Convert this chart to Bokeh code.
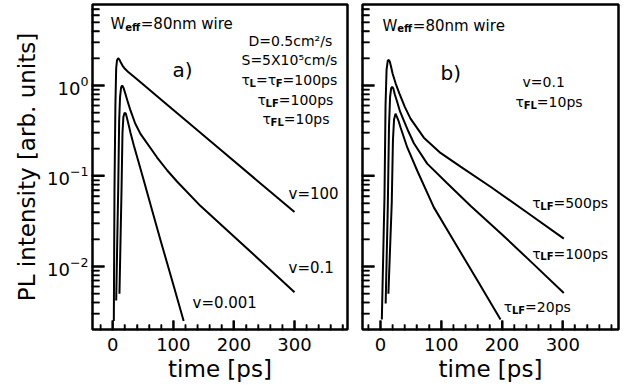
import math
from bokeh.plotting import figure
from bokeh.layouts import row
from bokeh.models import Range1d, FixedTicker, LogTickFormatter, PrintfTickFormatter
from bokeh.core.properties import value
from bokeh.embed import file_html
from bokeh.resources import INLINE

FONT = "DejaVu Sans"

# ---------------- data ----------------
# panel a): W_eff = 80 nm, different v
t_a_v100 = [1.7, 2.8, 4.3, 5.6, 7.0, 8.9, 11.0, 13.5, 16.0, 20.0, 25.0, 40.0, 79.0, 130.0, 178.0, 240.0, 300.0]
I_a_v100 = [0.0025, 0.07, 0.6, 1.55, 1.9, 2.0, 1.93, 1.78, 1.66, 1.53, 1.42, 1.17, 0.705, 0.363, 0.195, 0.087, 0.040]

t_a_v01 = [5.6, 8.9, 10.5, 12.0, 13.7, 15.5, 18.0, 21.0, 25.0, 29.2, 37.0, 45.7, 73.2, 90.0, 106.0, 145.0, 200.0, 250.0, 300.0]
I_a_v01 = [0.0042, 0.07, 0.4, 0.75, 0.95, 1.0, 0.93, 0.8, 0.65, 0.53, 0.38, 0.292, 0.16, 0.115, 0.087, 0.0465, 0.0215, 0.0106, 0.0052]

t_a_v0001 = [11.0, 14.4, 16.0, 17.5, 19.5, 21.5, 24.0, 26.5, 29.2, 35.0, 40.2, 51.2, 65.0, 78.8, 100.0, 117.0]
I_a_v0001 = [0.005, 0.069, 0.3, 0.45, 0.5, 0.49, 0.42, 0.36, 0.30, 0.215, 0.162, 0.089, 0.0415, 0.0195, 0.0063, 0.0025]

# panel b): v = 0.1, tau_FL = 10 ps, different tau_LF
t_b_500 = [2.2, 6.6, 8.3, 10.0, 12.0, 13.7, 15.5, 17.5, 20.0, 25.0, 31.0, 40.0, 49.4, 71.3, 98.7, 131.7, 181.0, 240.0, 301.6]
I_b_500 = [0.0026, 0.06, 0.6, 1.5, 1.88, 1.92, 1.82, 1.6, 1.35, 1.05, 0.82, 0.58, 0.43, 0.265, 0.18, 0.127, 0.076, 0.040, 0.0203]

t_b_100 = [8.5, 12.0, 14.0, 15.8, 17.5, 19.2, 21.0, 23.5, 27.4, 32.0, 38.4, 46.0, 54.9, 76.8, 109.7, 148.0, 200.0, 250.0, 301.6]
I_b_100 = [0.0039, 0.045, 0.35, 0.75, 0.93, 0.97, 0.93, 0.8, 0.66, 0.52, 0.41, 0.31, 0.23, 0.137, 0.083, 0.047, 0.0226, 0.0109, 0.0051]

t_b_20 = [13.0, 18.5, 20.5, 22.3, 24.7, 27.0, 29.5, 32.9, 43.9, 60.3, 87.8, 120.0, 160.0, 197.5]
I_b_20 = [0.005, 0.05, 0.25, 0.42, 0.487, 0.45, 0.41, 0.346, 0.208, 0.115, 0.045, 0.0195, 0.0069, 0.0026]

X_MAJOR = [0, 100, 200, 300]
X_MINOR = [v for v in range(-20, 381, 20) if v not in X_MAJOR]
Y_MAJOR = [1e-2, 1e-1, 1e0]
Y_LO, Y_HI = 0.002013, 7.85
Y_MINOR = [m * 10.0 ** k for k in (-3, -2, -1, 0) for m in range(2, 10) if Y_LO <= m * 10.0 ** k <= Y_HI]
FRAME_H = 325

# ---------------- helpers ----------------
W_REG = {'τ': 0.578, 'L': 0.557, 'F': 0.575, '=': 0.838, '0': 0.636, '1': 0.636, '2': 0.636,
         '5': 0.636, '8': 0.636, 'p': 0.635, 's': 0.521, 'W': 0.989, 'e': 0.615, 'f': 0.352,
         'n': 0.634, 'm': 0.974, ' ': 0.318, 'w': 0.818, 'i': 0.278, 'r': 0.411}
W_BOLD = {'L': 0.637, 'F': 0.683, 'e': 0.678, 'f': 0.435}


def text_width(txt, size, bold):
    table = W_BOLD if bold else W_REG
    return sum(table.get(c, 0.62) for c in txt) * size


def rich(p, x, y, parts):
    off = 0.0
    for txt, size, dy, bold in parts:
        p.text(x=[x], y=[y], text=[txt], x_offset=off, y_offset=dy,
               text_font=value(FONT), text_font_size=f"{size}px",
               text_font_style="bold" if bold else "normal",
               text_baseline="alphabetic", text_align="left", text_color="black")
        off += text_width(txt, size, bold)


def sub_label(p, x, y, sym_sub, rest, size=14):
    rich(p, x, y, [("τ", size, 0, False), (sym_sub, 10, 3, True), (rest, size, 0, False)])


def inward_ticks(p, x0, x1, frame_w):
    # inward tick marks, one short line per entry of the tick lists, starting at the frame edge
    ux = (x1 - x0) / frame_w                      # data units per pixel along x
    px_dec = FRAME_H / math.log10(Y_HI / Y_LO)    # pixels per decade along y
    for vals, L, w in ((Y_MINOR, 7, 1.5), (Y_MAJOR, 12, 2.0)):
        for v in vals:
            p.line([x0, x0 + L * ux], [v, v], line_width=w, line_color="black")
    for vals, L, w in ((X_MINOR, 5, 1.5), (X_MAJOR, 9, 2.0)):
        for v in vals:
            p.line([v, v], [Y_LO, Y_LO * 10 ** (L / px_dec)], line_width=w, line_color="black")


def make_panel(width, x0, x1, bl, br, ylabels):
    p = figure(width=width, height=390, x_range=Range1d(x0, x1), y_range=Range1d(Y_LO, Y_HI),
               y_axis_type="log", output_backend="svg", toolbar_location=None,
               min_border_left=bl, min_border_right=br, min_border_top=4, min_border_bottom=61)
    p.xgrid.grid_line_color = None
    p.ygrid.grid_line_color = None
    p.outline_line_color = "black"
    p.outline_line_width = 2.5
    xa, ya = p.xaxis[0], p.yaxis[0]
    xa.ticker = FixedTicker(ticks=X_MAJOR, minor_ticks=X_MINOR)
    ya.ticker = FixedTicker(ticks=Y_MAJOR, minor_ticks=Y_MINOR)
    ya.formatter = LogTickFormatter() if ylabels else PrintfTickFormatter(format="")
    for ax in (xa, ya):
        ax.axis_line_color = "black"
        ax.major_tick_out = 1
        ax.minor_tick_out = 1
        ax.major_tick_line_color = "black"
        ax.minor_tick_line_color = "black"
        ax.major_tick_line_width = 2
        ax.minor_tick_line_width = 1.5
        ax.major_label_text_font = FONT
        ax.major_label_text_font_size = "18px"
        ax.major_label_text_color = "black"
        ax.axis_label_text_font = FONT
        ax.axis_label_text_font_size = "23px"
        ax.axis_label_text_font_style = "normal"
        ax.axis_label_text_color = "black"
    xa.major_tick_in = 9
    xa.minor_tick_in = 5
    ya.major_tick_in = 12
    ya.minor_tick_in = 7
    xa.major_label_standoff = 7
    xa.axis_label = "time [ps]"
    xa.axis_label_standoff = 2
    if ylabels:
        ya.axis_label = "PL intensity [arb. units]"
        ya.major_label_standoff = 3
        ya.axis_label_standoff = 4
    else:
        ya.major_label_standoff = 0
    inward_ticks(p, x0, x1, width - bl - br)
    return p


# ---------------- panel a ----------------
pa = make_panel(355, -33.5, 387.5, 92, 8, True)
for t, I in ((t_a_v100, I_a_v100), (t_a_v01, I_a_v01), (t_a_v0001, I_a_v0001)):
    pa.line(t, I, line_width=2, line_color="black")

rich(pa, -3.8, 4.72, [("W", 15, 0, False), ("eff", 10, 3, True), ("=80nm  wire", 15, 0, False)])
rich(pa, 98.6, 1.465, [("a)", 20, 0, False)])
rich(pa, 224.0, 3.14, [("D=0.5cm²/s", 14, 0, False)])
rich(pa, 212.5, 1.89, [("S=5X10⁵cm/s", 14, 0, False)])
rich(pa, 212.5, 1.136, [("τ", 14, 0, False), ("L", 10, 3, True), ("=τ", 14, 0, False),
                        ("F", 10, 3, True), ("=100ps", 14, 0, False)])
sub_label(pa, 238.9, 0.683, "LF", "=100ps")
sub_label(pa, 247.2, 0.421, "FL", "=10ps")
rich(pa, 290.1, 0.0640, [("v=100", 15, 0, False)])
rich(pa, 290.1, 0.00967, [("v=0.1", 15, 0, False)])
rich(pa, 131.6, 0.00395, [("v=0.001", 15, 0, False)])

# ---------------- panel b ----------------
pb = make_panel(273, -29.6, 391.6, 7, 10, False)
for t, I in ((t_b_500, I_b_500), (t_b_100, I_b_100), (t_b_20, I_b_20)):
    pb.line(t, I, line_width=2, line_color="black")

rich(pb, 3.3, 4.6, [("W", 15, 0, False), ("eff", 10, 3, True), ("=80nm  wire", 15, 0, False)])
rich(pb, 98.7, 1.39, [("b)", 20, 0, False)])
rich(pb, 233.7, 1.08, [("v=0.1", 14, 0, False)])
sub_label(pb, 222.2, 0.649, "FL", "=10ps")
sub_label(pb, 249.6, 0.0497, "LF", "=500ps")
sub_label(pb, 249.6, 0.0139, "LF", "=100ps")
sub_label(pb, 202.9, 0.00355, "LF", "=20ps")

layout = row(pa, pb)
open("out.html", "w").write(file_html(layout, INLINE))
